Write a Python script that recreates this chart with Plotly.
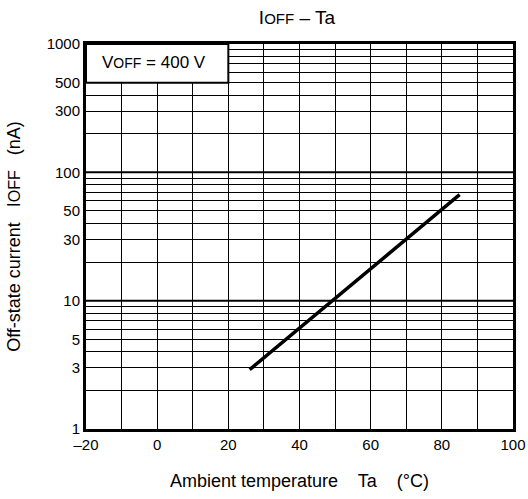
import plotly.graph_objects as go

# data
temp_c = [26, 85]
ioff_na = [2.9, 67]

x_tick_vals = [-20, -10, 0, 10, 20, 30, 40, 50, 60, 70, 80, 90, 100]
x_tick_text = ["–20", "", "0", "", "20", "", "40", "", "60", "", "80", "", "100"]

y_label_vals = [1, 3, 5, 10, 30, 50, 100, 300, 500, 1000]
y_label_text = ["1", "3", "5", "10", "30", "50", "100", "300", "500", "1000"]
y_minor_vals = [m * d for d in (1, 10, 100) for m in (2, 4, 6, 7, 8, 9)]
decades = [10, 100]

FONT = "Liberation Sans, Arial, sans-serif"
SUB = '<span style="font-size:{}px">OFF</span>'

fig = go.Figure()
fig.add_trace(go.Scatter(x=temp_c, y=ioff_na, mode="lines",
                         line=dict(color="black", width=3.5), showlegend=False,
                         hoverinfo="skip"))

shapes = []
for d in decades:
    shapes.append(dict(type="line", xref="paper", x0=0, x1=1, yref="y", y0=d, y1=d,
                       line=dict(color="black", width=2), layer="below"))
# condition box
shapes.append(dict(type="rect", xref="x", yref="y", x0=-20, x1=20, y0=500, y1=1000,
                   fillcolor="white", line=dict(color="black", width=2), layer="above"))

fig.update_layout(
    width=528, height=499,
    margin=dict(l=86, r=15, t=44, b=70),
    paper_bgcolor="white", plot_bgcolor="white",
    font=dict(family=FONT, size=15, color="black"),
    hovermode=False,
    title=dict(text="I" + SUB.format(15) + " – Ta", xref="paper", x=0.494, xanchor="center",
               yref="container", y=0.966, yanchor="middle",
               font=dict(size=19, family=FONT)),
    shapes=shapes,
    annotations=[dict(text="V" + SUB.format(14) + " = 400 V", xref="x", yref="y", x=-1, y=2.855,
                      showarrow=False, font=dict(size=17, family=FONT))],
    xaxis=dict(range=[-20, 100], tickmode="array", tickvals=x_tick_vals, ticktext=x_tick_text,
               showgrid=True, gridcolor="black", gridwidth=1, zeroline=False,
               showline=True, linecolor="black", linewidth=3, mirror=True, automargin=False,
               ticks="", ticklen=0, tickfont=dict(size=15),
               title=dict(text="Ambient temperature    Ta    (°C)", font=dict(size=18), standoff=23)),
    yaxis=dict(type="log", range=[0, 3], tickmode="array", tickvals=y_label_vals, ticktext=y_label_text,
               showgrid=True, gridcolor="black", gridwidth=1, zeroline=False,
               showline=True, linecolor="black", linewidth=3, mirror=True, automargin=False,
               ticks="", ticklen=0, tickfont=dict(size=15),
               minor=dict(tickvals=y_minor_vals, showgrid=True, gridcolor="black", gridwidth=1, ticks=""),
               title=dict(text="Off-state current   I" + SUB.format(16) + "   (nA)", font=dict(size=18), standoff=22)),
)

fig.write_html("out.html", config={"displayModeBar": False},
               post_script="document.body.style.margin='0';")
